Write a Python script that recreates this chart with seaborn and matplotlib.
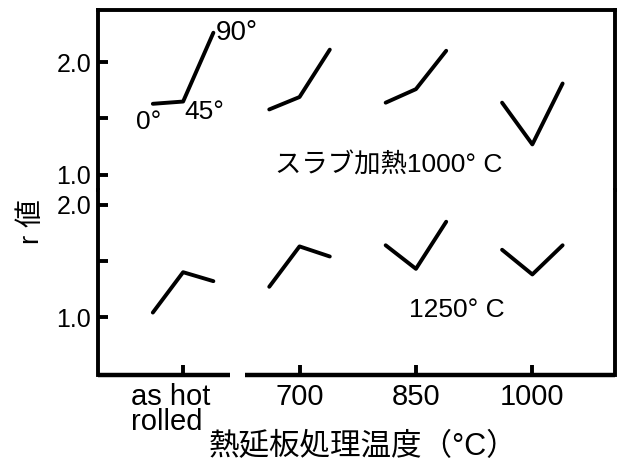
import matplotlib.pyplot as plt
import matplotlib.transforms as mtransforms
import pandas as pd
import seaborn as sns

# data: r value at 0, 45, 90 deg for each hot-band treatment
treatments = ['as hot\nrolled', '700', '850', '1000']
angles = [0, 45, 90]
r_slab1000 = [[1.63, 1.65, 2.26], [1.58, 1.69, 2.11], [1.64, 1.76, 2.10], [1.64, 1.27, 1.81]]
r_slab1250 = [[1.04, 1.40, 1.32], [1.27, 1.63, 1.54], [1.64, 1.43, 1.85], [1.60, 1.38, 1.64]]

sns.set_theme(style='white')
plt.rcParams['font.family'] = ['Liberation Sans', 'Noto Sans CJK JP']
plt.rcParams['axes.linewidth'] = 2.8
plt.rcParams['text.color'] = 'black'
plt.rcParams['axes.labelcolor'] = 'black'
plt.rcParams['xtick.color'] = 'black'
plt.rcParams['ytick.color'] = 'black'

# long table, x = category index shifted by direction
rows = []
for slab, vals in [('1000', r_slab1000), ('1250', r_slab1250)]:
    for i, t in enumerate(treatments):
        for a, r in zip(angles, vals[i]):
            rows.append({'slab': slab, 'treatment': t, 'x': i + (a - 45) / 45 * 0.26, 'angle': a, 'r': r})
df = pd.DataFrame(rows)

fig = plt.figure(figsize=(6.25, 4.62), dpi=100)
ax1 = fig.add_axes([0.157, 0.589, 0.827, 0.389])
ax2 = fig.add_axes([0.157, 0.188, 0.827, 0.401], sharex=ax1)

for ax, slab in [(ax1, '1000'), (ax2, '1250')]:
    sns.lineplot(data=df[df.slab == slab], x='x', y='r', units='treatment', estimator=None,
                 color='black', lw=2.8, ax=ax, legend=False)
    ax.set_xlabel('')
    ax.set_ylabel('')
    ax.set_yticks([1.0, 2.0])
    ax.set_yticklabels(['1.0', '2.0'])
    ax.set_yticks([1.5], minor=True)
    ax.tick_params(axis='y', which='both', direction='in', length=7, width=2.8, left=True, labelsize=18, pad=5)
    for s in ax.spines.values():
        s.set_color('black')

ax1.set_ylim(0.867, 2.46)
ax2.set_ylim(0.482, 2.134)
ax1.set_xlim(-0.73, 3.71)
ax1.spines['bottom'].set_visible(False)
ax2.spines['top'].set_visible(False)
ax1.tick_params(axis='x', bottom=False, labelbottom=False)

ax2.set_xticks(range(len(treatments)))
ax2.set_xticklabels(treatments, linespacing=0.85)
ax2.tick_params(axis='x', direction='in', length=7, width=2.8, bottom=True, labelsize=21, pad=6)
# first label is left-aligned in the original, sitting a bit left of its tick
lab0 = ax2.get_xticklabels()[0]
lab0.set_multialignment('left')
lab0.set_transform(lab0.get_transform() + mtransforms.ScaledTranslation(-12 / 100, 0, fig.dpi_scale_trans))

# broken bottom axis between "as hot rolled" and 700
ax2.spines['bottom'].set_visible(False)
ax2.axhline(0.482, xmin=0, xmax=0.255, color='black', lw=3.2, clip_on=False, solid_capstyle='butt')
ax2.axhline(0.482, xmin=0.284, xmax=1, color='black', lw=3.2, clip_on=False, solid_capstyle='butt')

# direction labels on the first group
g0 = df[(df.slab == '1000') & (df.treatment == treatments[0])].set_index('angle')
ax1.annotate('0°', (g0.loc[0, 'x'], g0.loc[0, 'r']), xytext=(8, -6), textcoords='offset pixels',
             ha='right', va='top', fontsize=19)
ax1.annotate('45°', (g0.loc[45, 'x'], g0.loc[45, 'r']), xytext=(1, -10), textcoords='offset pixels',
             ha='left', va='center', fontsize=19)
ax1.annotate('90°', (g0.loc[90, 'x'], g0.loc[90, 'r']), xytext=(2, 0), textcoords='offset pixels',
             ha='left', va='center', fontsize=20)

ax1.text(0.79, 1.09, 'スラブ加熱1000° C', ha='left', va='center', fontsize=19)
ax2.text(2.35, 1.06, '1250° C', ha='center', va='center', fontsize=19)

ax2.set_xlabel('熱延板処理温度（°C）', fontsize=22)
ax2.xaxis.set_label_coords(0.513, -0.39)
ax2.xaxis.label.set_va('center')
ax2.set_ylabel('r 値', fontsize=20)
ax2.yaxis.set_label_coords(-0.128, 0.83)
ax2.yaxis.label.set_va('center')

fig.savefig('out.png', dpi=100)
